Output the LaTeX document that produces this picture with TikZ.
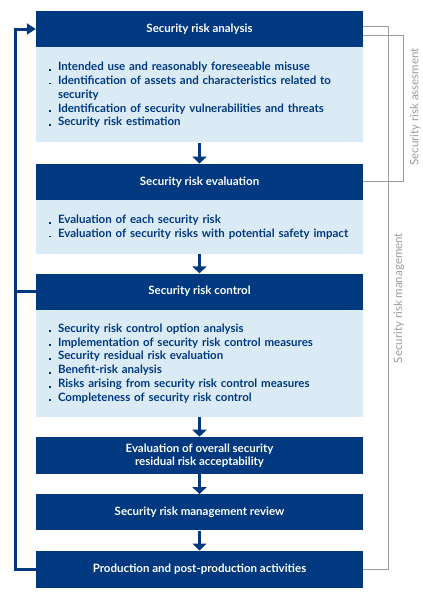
\documentclass[tikz,border=0pt]{standalone}
\usepackage{fontspec}
\setmainfont{Lato}
\usepackage{tikz}
\usetikzlibrary{positioning, arrows.meta, calc}

\definecolor{navy}{RGB}{0,57,128}
\definecolor{paleblue}{RGB}{219,235,246}
\definecolor{linegray}{RGB}{155,155,155}

\newcommand{\bitem}[1]{\makebox[9pt][l]{\rule{1.9pt}{1.9pt}}#1}

\tikzset{every node/.append style={font=\fontsize{11.5}{13.8}\selectfont\bfseries}}
\tikzset{
    hdr/.style={fill=navy, text=white, minimum width=327pt, minimum height=36pt,
        inner sep=0pt, align=center, font=\fontsize{11.5}{13}\selectfont\bfseries},
    body/.style={fill=paleblue, text=navy, text width=301pt, inner xsep=13pt,
        inner ysep=0pt, align=left},
    flow/.style={-{Triangle[width=14pt, length=7pt]}, line width=3.5pt, navy},
    loopback/.style={line width=3pt, navy},
    bracket/.style={linegray, line width=0.9pt},
    sidelbl/.style={text=linegray, rotate=90, font=\fontsize{11.5}{12}\selectfont}
}

\begin{document}
\begin{tikzpicture}[x=1pt, y=-1pt]
    \useasboundingbox (0,0) rectangle (423,600);

    % main column
    \node[hdr] (sra) at (199.5,29) {Security risk analysis};
    \node[body, minimum height=95pt, below=0pt of sra] (sraBody) {%
        \bitem{Intended use and reasonably foreseeable misuse}\\
        \bitem{Identification of assets and characteristics related to}\\
        \hspace*{9pt}security\\
        \bitem{Identification of security vulnerabilities and threats}\\
        \bitem{Security risk estimation}};
    \node[hdr, below=21pt of sraBody] (sre) {Security risk evaluation};
    \node[body, minimum height=54pt, below=0pt of sre] (sreBody) {%
        \bitem{Evaluation of each security risk}\\
        \bitem{Evaluation of security risks with potential safety impact}};
    \node[hdr, below=19pt of sreBody] (src) {Security risk control};
    \node[body, minimum height=107pt, below=0pt of src] (srcBody) {%
        \bitem{Security risk control option analysis}\\
        \bitem{Implementation of security risk control measures}\\
        \bitem{Security residual risk evaluation}\\
        \bitem{Benefit-risk analysis}\\
        \bitem{Risks arising from security risk control measures}\\
        \bitem{Completeness of security risk control}};
    \node[hdr, minimum height=37pt, below=19.5pt of srcBody] (ovr)
        {Evaluation of overall security\\residual risk acceptability};
    \node[hdr, below=20pt of ovr] (rev) {Security risk management review};
    \node[hdr, minimum height=37pt, below=20pt of rev] (prod)
        {Production and post-production activities};

    \draw[flow] (sraBody) -- (sre);
    \draw[flow] (sreBody) -- (src);
    \draw[flow] (srcBody) -- (ovr);
    \draw[flow] (ovr) -- (rev);
    \draw[flow] (rev) -- (prod);

    % feedback loop on the left
    \coordinate (fbBot) at ($(prod.west)+(-20,0)$);
    \draw[loopback, -{Triangle[width=11pt, length=9pt]}] (prod.west) -- (fbBot) |- (sra.west);
    \draw[loopback] (src.west) -- (src.west -| fbBot);

    % brackets on the right
    \draw[bracket] ([yshift=3pt]sra.east) -- ++(25,0) coordinate (mgmtTop) |- (prod.east);
    \draw[bracket] ([yshift=-6pt]sra.east) -- ++(40,0) coordinate (assTop) |- (sre.east);
    \node[sidelbl] (mgmtLbl) at (399,298) {Security risk management};
    \node[sidelbl] (assLbl) at (415,107) {Security risk assesment};
\end{tikzpicture}
\end{document}
